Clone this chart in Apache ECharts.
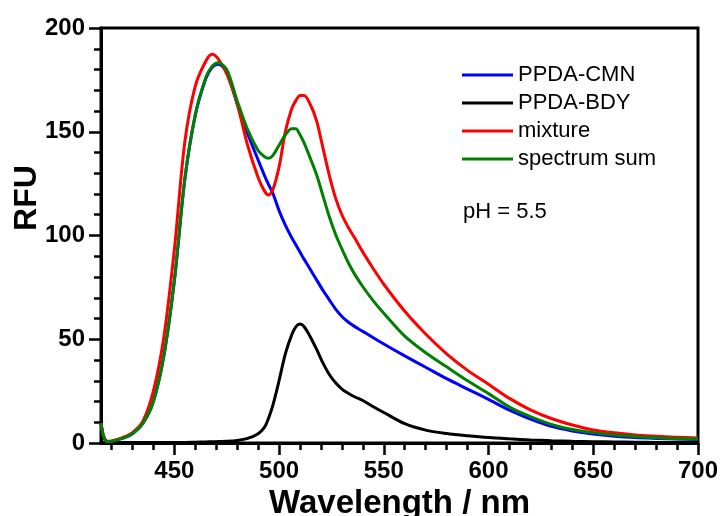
<!DOCTYPE html>
<html>
<head>
<meta charset="utf-8">
<script src="https://cdn.jsdelivr.net/npm/echarts@6/dist/echarts.min.js"></script>
<style>
html,body{margin:0;padding:0;background:#fff;}
#chart{width:720px;height:516px;}
</style>
</head>
<body>
<div id="chart"></div>
<script>
const wavelength = [415,416,417,418,420,425,430,435,440,445,450,455,460,465,468,471,475,480,485,490,493,495,497,500,503,506,508,510,512,515,518,521,524,527,530,533,536,540,545,550,560,570,580,590,600,610,620,630,640,650,660,670,680,690,700];
const ppdaCmn = [9.5,4,1.5,0.6,0.8,2.2,4.5,9.5,20,42,78,127,158,175.5,181,182.5,179,163.5,149,136.4,129,124.5,120.5,112,105,99,95.5,92,88.5,83.5,78.5,73.5,69,64.5,61,58.3,56.2,53.8,50.7,47.7,42,36.5,31,26,21,15.8,11.5,8,5.8,4.3,3.3,2.6,2.2,1.9,1.7];
const ppdaBdy = [0.2,0.2,0.2,0.2,0.2,0.2,0.2,0.2,0.2,0.3,0.3,0.3,0.4,0.5,0.6,0.7,0.8,1.2,2.2,4.5,7.5,12,18,30,43,52,56,57.3,56,51,45,38.5,33,29,26,24,22.3,20.5,17.5,14.7,9.3,6.2,4.6,3.5,2.6,2,1.5,1.1,0.8,0.6,0.5,0.4,0.3,0.3,0.3];
const mixture = [9.5,4,1.5,0.8,1,2.5,5,10.5,25,51,93,145,172,184,187.3,185,178,163.5,143.5,128,121.5,119.5,122,133,150,161,165,167.5,167.5,163,155,142,129,118,110,104,99,92,84,76.5,63.5,52.5,43,35,28.3,21.5,16,11.8,8.7,6.3,4.9,3.9,3.2,2.8,2.4];
const spectrumSum = [9.5,4,1.5,0.6,0.8,2.2,4.5,9.5,20,42,78,127,158,176,181.5,183.3,180,165,151,141,138,137.2,138.5,143.5,148.5,151.5,151.5,148.5,144.5,137,129,119,109,100.5,93.5,87,81.5,75.3,68.5,62.5,51.5,43.5,36.7,30,23.8,17.3,12.7,9,6.5,5,3.8,3.1,2.5,2.1,1.9];
const seriesNames = ['PPDA-CMN','PPDA-BDY','mixture','spectrum sum'];
const xMajorTicks = [450,500,550,600,650,700];
const xMinorTicks = [420,430,440,460,470,480,490,510,520,530,540,560,570,580,590,610,620,630,640,660,670,680,690];

const FONT = "'Liberation Sans', Arial, sans-serif";
function pairs(ys){ return wavelength.map((w,i)=>[w, ys[i]]); }
function mk(name, ys, color){
  return {name:name, type:'line', data:pairs(ys), showSymbol:false, symbol:'none',
    smooth:0.3, lineStyle:{color:color, width:3}, itemStyle:{color:color},
    xAxisIndex:0, yAxisIndex:0, animation:false};
}
const chart = echarts.init(document.getElementById('chart'), null, {renderer:'canvas'});
chart.setOption({
  backgroundColor:'#fff',
  animation:false,
  grid:{left:101, right:22, top:28, bottom:73, show:true, borderColor:'#000', borderWidth:3, containLabel:false, outerBoundsMode:'none'},
  legend:{
    orient:'vertical', left:462, top:64, padding:0, itemWidth:51, itemHeight:3, itemGap:6, icon:'rect',
    data:seriesNames,
    textStyle:{fontFamily:FONT, fontSize:22, lineHeight:22, color:'#000'}
  },
  xAxis:[
    {type:'value', min:415, max:700, position:'bottom',
     axisLine:{show:true, lineStyle:{color:'#000', width:3}},
     axisTick:{show:true, length:12, customValues:xMajorTicks, lineStyle:{color:'#000', width:2.5}},
     axisLabel:{customValues:xMajorTicks, fontFamily:FONT, fontSize:24, fontWeight:'bold', color:'#000', margin:16},
     splitLine:{show:false},
     name:'Wavelength / nm', nameLocation:'middle', nameGap:41,
     nameTextStyle:{fontFamily:FONT, fontSize:33, fontWeight:'bold', color:'#000', lineHeight:33}
    },
    {type:'value', min:415, max:700, position:'bottom', offset:0,
     axisLine:{show:false},
     axisTick:{show:true, length:7, customValues:xMinorTicks, lineStyle:{color:'#000', width:2.5}},
     axisLabel:{show:false}, splitLine:{show:false}
    }
  ],
  yAxis:{type:'value', min:0, max:200, interval:50,
    axisLine:{show:true, lineStyle:{color:'#000', width:3}},
    axisTick:{show:true, length:12, lineStyle:{color:'#000', width:2.5}},
    minorTick:{show:true, splitNumber:5, length:7, lineStyle:{color:'#000', width:2.5}},
    axisLabel:{fontFamily:FONT, fontSize:24, fontWeight:'bold', color:'#000', margin:16},
    splitLine:{show:false}, minorSplitLine:{show:false}
  },
  graphic:[
    {type:'text', x:27, y:198, rotation:Math.PI/2,
     style:{text:'RFU', fontFamily:FONT, fontSize:32, fontWeight:'bold', fill:'#000', align:'center', verticalAlign:'middle'}},
    {type:'text', x:463, y:212,
     style:{text:'pH = 5.5', fontFamily:FONT, fontSize:22, fill:'#000', align:'left', verticalAlign:'middle'}}
  ],
  series:[
    mk(seriesNames[0], ppdaCmn, '#0000ff'),
    mk(seriesNames[1], ppdaBdy, '#000000'),
    mk(seriesNames[2], mixture, '#ff0000'),
    mk(seriesNames[3], spectrumSum, '#008000')
  ]
});
</script>
</body>
</html>
